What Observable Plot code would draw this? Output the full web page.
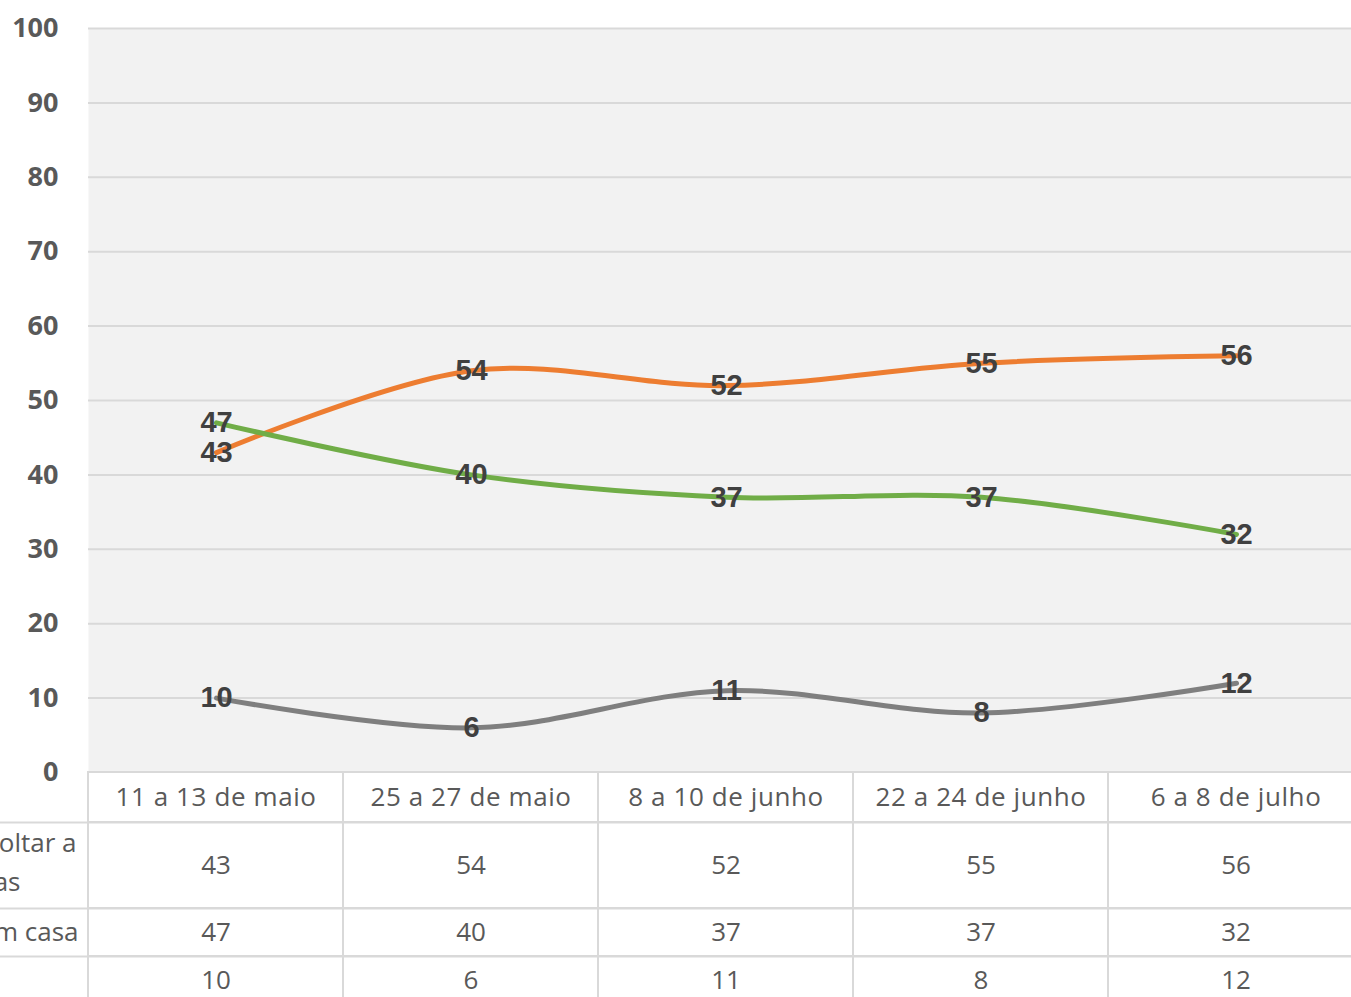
<!DOCTYPE html>
<html><head><meta charset="utf-8">
<script src="https://cdn.jsdelivr.net/npm/d3@7"></script>
<script src="https://cdn.jsdelivr.net/npm/@observablehq/plot@0.6"></script>
<style>
html,body{margin:0;padding:0;background:#fff;overflow:hidden}
#chart svg{display:block}
</style></head><body><div id="chart"></div>
<script>
// ---- data ----
const categories = ["11 a 13 de maio", "25 a 27 de maio", "8 a 10 de junho", "22 a 24 de junho", "6 a 8 de julho"];
const seriesNames = ["É hora de voltar a às rotinas", "Ficar em casa", "NS/NR"];
const row1LabelLines = ["É hora de voltar a", "às rotinas"];
const row2Label = "Ficar em casa";
const row3Label = "NS/NR";
const voltar = [43, 54, 52, 55, 56];
const casa = [47, 40, 37, 37, 32];
const nsnr = [10, 6, 11, 8, 12];
const yTicks = [0, 10, 20, 30, 40, 50, 60, 70, 80, 90, 100];
const seriesColors = ["#ED7D31", "#70AD47", "#7F7F7F"];

const seriesValues = [voltar, casa, nsnr];
const data = seriesValues.flatMap((vals, s) =>
  vals.map((v, i) => ({series: seriesNames[s], cat: categories[i], value: v})));

const W = 1351;
const xRange = [88, 1363];
const baseStyle = {background: "transparent", overflow: "visible", fontFamily: "'Open Sans', sans-serif"};
const gridC = "#d9d9d9";
const textC = "#595959";

const container = document.getElementById("chart");

// ---- main chart ----
const main = Plot.plot({
  width: W, height: 772,
  marginTop: 28, marginBottom: 0, marginLeft: 88, marginRight: 0,
  style: baseStyle,
  x: {type: "point", domain: categories, range: xRange, padding: 0.5, axis: null},
  y: {domain: [0, 100], axis: null},
  color: {domain: seriesNames, range: seriesColors},
  marks: [
    Plot.frame({fill: "#f2f2f2"}),
    Plot.gridY(yTicks, {stroke: gridC, strokeOpacity: 1, strokeWidth: 2}),
    Plot.axisY(yTicks, {tickSize: 0, tickPadding: 30, fontSize: 27, fontWeight: "bold", fill: textC, label: null}),
    Plot.line(data, {x: "cat", y: "value", z: "series", stroke: "series", strokeWidth: 5, curve: "catmull-rom"}),
    Plot.text(data, {x: "cat", y: "value", text: d => String(d.value), fontSize: 29, fontWeight: "bold",
      fill: "#404040", fontFamily: "'Liberation Sans Narrow', 'Arial Narrow', sans-serif"})
  ]
});
container.appendChild(main);

// ---- data table ----
function tableRow(height, texts, extraMarks, topRule, spacing) {
  return Plot.plot({
    width: W, height, margin: 0,
    style: {...baseStyle, letterSpacing: spacing || "0px"},
    x: {type: "band", domain: categories, range: xRange, padding: 0, axis: null},
    marks: [
      Plot.cell(categories, {x: d => d, fill: "white", stroke: gridC, strokeWidth: 2}),
      topRule ? Plot.frame({anchor: "top", stroke: gridC, strokeWidth: 2}) : null,
      Plot.text(categories, {x: d => d, text: (d, i) => texts[i], fontSize: 26, fill: textC}),
      ...extraMarks
    ]
  });
}
const labelOpts = {frameAnchor: "left", textAnchor: "end", fontSize: 26, fill: textC};

container.appendChild(tableRow(50, categories, [], false, "0.6px"));
container.appendChild(tableRow(86, voltar.map(String), [
  Plot.text([row1LabelLines[0]], {...labelOpts, text: d => d, dx: 76, dy: -22}),
  Plot.text([row1LabelLines[1]], {...labelOpts, text: d => d, dx: 20, dy: 17})
], true));
container.appendChild(tableRow(48, casa.map(String), [
  Plot.text([row2Label], {...labelOpts, text: d => d, dx: 78})
], true));
container.appendChild(tableRow(48, nsnr.map(String), [
  Plot.text([row3Label], {...labelOpts, text: d => d, dx: -8})
], true));
</script></body></html>
